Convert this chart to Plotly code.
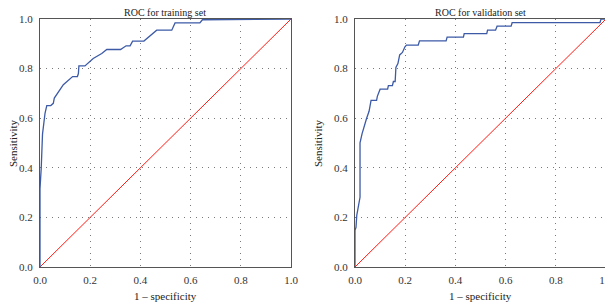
import plotly.graph_objects as go

# Training ROC curve
train_fpr = [0.0, 0.0, 0.005, 0.01, 0.02, 0.027, 0.043, 0.053, 0.057, 0.093, 0.13, 0.149, 0.153, 0.155,
             0.179, 0.199, 0.212, 0.246, 0.266, 0.321, 0.329, 0.343, 0.359, 0.369, 0.414, 0.438,
             0.465, 0.525, 0.538, 0.637, 0.647, 1.0]
train_tpr = [0.0, 0.316, 0.40, 0.536, 0.62, 0.651, 0.651, 0.66, 0.681, 0.735, 0.768, 0.768, 0.78, 0.811,
             0.811, 0.828, 0.841, 0.861, 0.877, 0.877, 0.883, 0.892, 0.892, 0.911, 0.911, 0.931,
             0.955, 0.955, 0.984, 0.984, 0.997, 1.0]

# Validation ROC curve
val_fpr = [0.0, 0.0, 0.004, 0.007, 0.02, 0.02, 0.028, 0.036, 0.046, 0.056, 0.064, 0.086, 0.089, 0.1,
           0.13, 0.133, 0.149, 0.153, 0.16, 0.163, 0.171, 0.178, 0.189, 0.199, 0.205, 0.252, 0.257,
           0.363, 0.367, 0.432, 0.435, 0.525, 0.528, 0.56, 0.566, 0.622, 0.626, 0.976, 0.98, 1.0]
val_tpr = [0.0, 0.148, 0.16, 0.208, 0.281, 0.501, 0.537, 0.568, 0.599, 0.628, 0.672, 0.672, 0.688, 0.717,
           0.717, 0.731, 0.731, 0.748, 0.748, 0.805, 0.82, 0.855, 0.865, 0.888, 0.895, 0.895, 0.912,
           0.912, 0.927, 0.927, 0.941, 0.941, 0.955, 0.955, 0.971, 0.971, 0.985, 0.985, 1.0, 1.0]

diag = [0.0, 1.0]
ticks = [0.0, 0.2, 0.4, 0.6, 0.8, 1.0]
tick_text = ["0.0", "0.2", "0.4", "0.6", "0.8", "1.0"]
titles = ["ROC for training set", "ROC for validation set"]

BLUE = "#3c5aa6"
RED = "#ff1a12"
FONT = "Liberation Serif"

# The page body has an 8 px margin; figure is sized to fit the window.
W, H, OFF = 605, 297, 8


def px_x(p):
    return (p - OFF) / W


def px_y(p):
    return 1 - (p - OFF) / H


fig = go.Figure()
for i, (fx, fy) in enumerate([(train_fpr, train_tpr), (val_fpr, val_tpr)]):
    xa = "x" if i == 0 else "x2"
    ya = "y" if i == 0 else "y2"
    fig.add_trace(go.Scatter(x=diag, y=diag, mode="lines", line=dict(color=RED, width=1),
                             xaxis=xa, yaxis=ya, showlegend=False))
    fig.add_trace(go.Scatter(x=fx, y=fy, mode="lines", line=dict(color=BLUE, width=1.3),
                             xaxis=xa, yaxis=ya, showlegend=False))

axis_common = dict(range=[0, 1], tickvals=ticks, ticktext=tick_text, showgrid=True,
                   gridcolor="#7a7a7a", griddash="1px,5px", gridwidth=1, showline=True,
                   linecolor="#555555", linewidth=1.2, mirror=True, ticks="", automargin=False,
                   zeroline=False, ticklabeloverflow="allow",
                   tickfont=dict(family=FONT, size=11, color="#333333"))

dom_x = [[px_x(40), px_x(291)], [px_x(355), px_x(606)]]
dom_y = [px_y(267), px_y(19)]

fig.update_layout(
    template="none",
    width=W, height=H, margin=dict(l=0, r=0, t=0, b=0),
    plot_bgcolor="white", paper_bgcolor="white",
    xaxis=dict(domain=dom_x[0], anchor="y", ticklabelstandoff=3, **axis_common),
    yaxis=dict(domain=dom_y, anchor="x", ticklabelstandoff=4, **axis_common),
    xaxis2=dict(domain=dom_x[1], anchor="y2", ticklabelstandoff=3, **axis_common),
    yaxis2=dict(domain=dom_y, anchor="x2", ticklabelstandoff=4, **axis_common),
)

anns = []
for i in range(2):
    cx = (dom_x[i][0] + dom_x[i][1]) / 2
    anns.append(dict(text=titles[i], x=cx, y=dom_y[1], xref="paper", yref="paper",
                     showarrow=False, font=dict(family=FONT, size=10, color="#222222"),
                     xanchor="center", yanchor="bottom", borderpad=0))
    anns.append(dict(text="1 – specificity", x=cx, y=px_y(296), xref="paper", yref="paper",
                     showarrow=False, font=dict(family=FONT, size=11, color="#222222"),
                     xanchor="center", yanchor="middle"))
    if i == 0:
        anns.append(dict(text="Sensitivity", x=0, y=(dom_y[0] + dom_y[1]) / 2, xref="paper",
                         yref="paper", showarrow=False, textangle=-90, borderpad=0,
                         font=dict(family=FONT, size=11, color="#222222"),
                         xanchor="left", yanchor="middle", xshift=-2))
    else:
        anns.append(dict(text="Sensitivity", x=px_x(318), y=(dom_y[0] + dom_y[1]) / 2, xref="paper",
                         yref="paper", showarrow=False, textangle=-90,
                         font=dict(family=FONT, size=11, color="#222222"),
                         xanchor="center", yanchor="middle"))
fig.update_layout(annotations=anns)

fig.write_html("out.html")
